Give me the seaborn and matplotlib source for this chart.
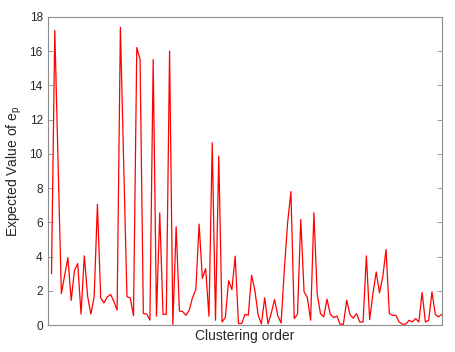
import numpy as np
import pandas as pd
import seaborn as sns
import matplotlib
matplotlib.use('Agg')
import matplotlib.pyplot as plt

# expected value of e_p per cluster, in clustering order
order = np.arange(1, 121)
ep_values = [3.0, 17.2, 9.5, 1.85, 2.9, 3.95, 1.45, 3.2, 3.6, 0.65,
             4.05, 1.7, 0.65, 1.65, 7.05, 1.6, 1.3, 1.65, 1.8, 1.4,
             0.88, 17.38, 9.5, 1.67, 1.6, 0.56, 16.2, 15.5, 0.68, 0.66,
             0.3, 15.5, 0.53, 6.56, 0.64, 0.64, 16.0, 0.05, 5.75, 0.83,
             0.8, 0.58, 0.88, 1.62, 2.08, 5.9, 2.73, 3.3, 0.53, 10.65,
             0.29, 9.87, 0.19, 0.45, 2.6, 2.08, 4.03, 0.1, 0.1, 0.64,
             0.58, 2.92, 2.04, 0.6, 0.08, 1.6, 0.08, 0.7, 1.5, 0.55,
             0.13, 3.3, 6.0, 7.8, 0.39, 0.64, 6.17, 1.95, 1.62, 0.29,
             6.56, 1.85, 0.68, 0.49, 1.52, 0.64, 0.45, 0.54, 0.06, 0.06,
             1.46, 0.63, 0.41, 0.68, 0.19, 0.19, 4.05, 0.33, 1.85, 3.11,
             1.89, 2.82, 4.42, 0.68, 0.58, 0.58, 0.19, 0.06, 0.06, 0.29,
             0.19, 0.39, 0.19, 1.91, 0.19, 0.29, 1.95, 0.64, 0.49, 0.64]
y_ticks = [0, 2, 4, 6, 8, 10, 12, 14, 16, 18]

df = pd.DataFrame({'order': order, 'ep': ep_values})

sns.set_style('white')
plt.rcParams['font.family'] = ['Liberation Sans', 'DejaVu Sans']
plt.rcParams['mathtext.fontset'] = 'custom'
plt.rcParams['mathtext.rm'] = 'Liberation Sans'
plt.rcParams['mathtext.it'] = 'Liberation Sans'

fig = plt.figure(figsize=(4.55, 3.52), dpi=100)
ax = fig.add_axes([0.106, 0.076, 0.865, 0.8765])

sns.lineplot(data=df, x='order', y='ep', color='#ff0000', linewidth=0.9, ax=ax)

ax.set_xlim(0, 120)
ax.set_ylim(0, 18)
ax.set_xticks([])
ax.set_yticks(y_ticks)
ax.set_xlabel('Clustering order', fontsize=10, color='#262626', labelpad=3)
ax.set_ylabel('Expected Value of e$_\\mathregular{p}$', fontsize=10, color='#262626', labelpad=4)

for s in ax.spines.values():
    s.set_visible(True)
    s.set_color('#8c8c8c')
    s.set_linewidth(0.8)
ax.tick_params(axis='y', direction='in', length=3.5, width=0.6, color='#8c8c8c',
               labelsize=8.5, labelcolor='#262626', right=True, left=True, pad=4)

plt.savefig('out.png', dpi=100)
